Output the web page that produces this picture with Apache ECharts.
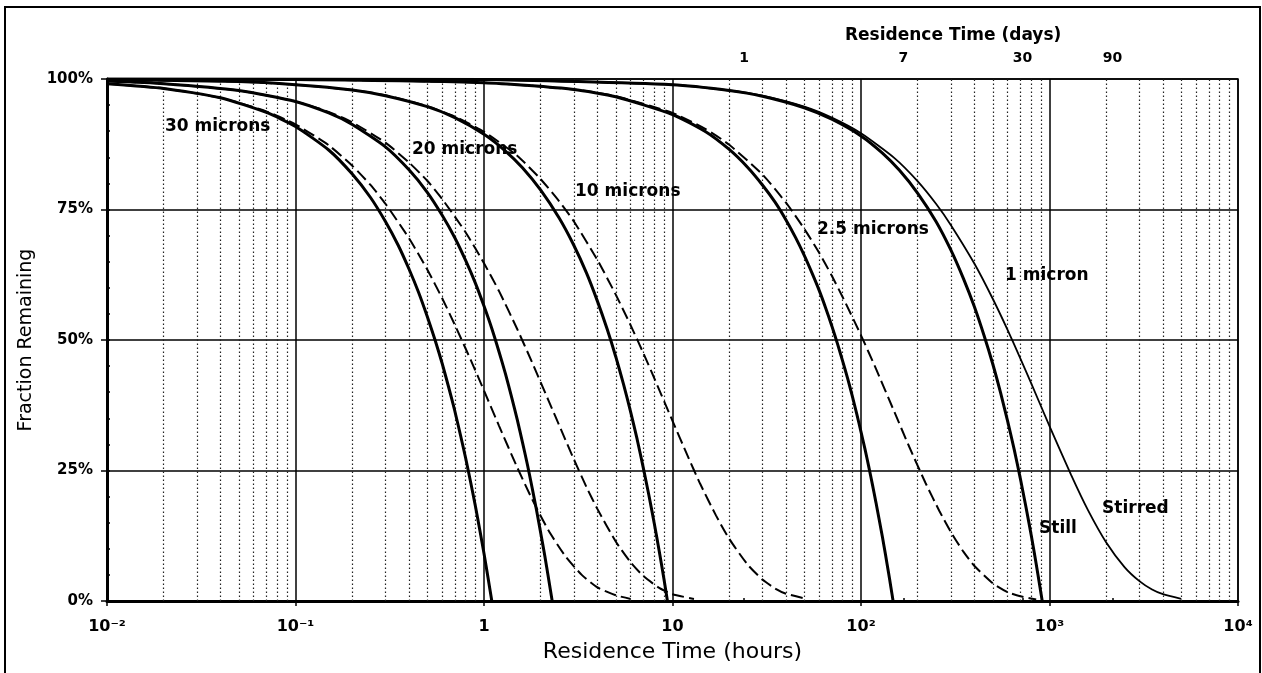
<!DOCTYPE html>
<html><head><meta charset="utf-8">
<script src="https://cdn.jsdelivr.net/npm/echarts@6/dist/echarts.min.js"></script>
<style>
html,body{margin:0;padding:0;background:#fff;overflow:hidden;}
#chart{width:1262px;height:673px;}
#frame{position:absolute;left:4px;top:6px;width:1253px;height:720px;border:2px solid #000;border-bottom:none;pointer-events:none;}
</style>
</head><body><div id="chart"></div><div id="frame"></div>
<script>
// ---- data: [hours, % remaining] ----
const still30 = [[0.01,99.1],[0.02,98.2],[0.04,96.4],[0.07,93.6],[0.1,90.9],[0.15,86.4],[0.2,81.8],[0.25,77.3],[0.3,72.7],[0.35,68.2],[0.4,63.6],[0.45,59.1],[0.5,54.5],[0.55,50.0],[0.6,45.5],[0.65,40.9],[0.7,36.4],[0.75,31.8],[0.8,27.3],[0.85,22.7],[0.9,18.2],[0.95,13.6],[1.0,9.1],[1.05,4.5],[1.1,0]];
const stirred30 = [[0.01,99.1],[0.02,98.2],[0.04,96.4],[0.07,93.8],[0.1,91.3],[0.15,87.3],[0.2,83.4],[0.25,79.7],[0.3,76.1],[0.4,69.5],[0.5,63.5],[0.6,58.0],[0.7,52.9],[0.85,46.2],[1.0,40.3],[1.2,33.6],[1.5,25.6],[1.8,19.5],[2.2,13.5],[2.7,8.6],[3.3,5.0],[4.0,2.6],[5.0,1.1],[6.0,0.4]];
const still20 = [[0.01,99.6],[0.02,99.1],[0.05,97.8],[0.1,95.7],[0.15,93.5],[0.2,91.3],[0.3,87.0],[0.4,82.6],[0.5,78.3],[0.6,73.9],[0.7,69.6],[0.8,65.2],[0.9,60.9],[1.0,56.5],[1.1,52.2],[1.2,47.8],[1.3,43.5],[1.4,39.1],[1.5,34.8],[1.6,30.4],[1.7,26.1],[1.8,21.7],[1.9,17.4],[2.0,13.0],[2.1,8.7],[2.2,4.3],[2.3,0]];
const stirred20 = [[0.01,99.6],[0.02,99.1],[0.05,97.8],[0.1,95.7],[0.15,93.7],[0.2,91.7],[0.3,87.8],[0.4,84.0],[0.5,80.5],[0.6,77.0],[0.8,70.6],[1.0,64.7],[1.2,59.4],[1.5,52.1],[1.8,45.7],[2.2,38.4],[2.6,32.3],[3.0,27.1],[3.5,21.8],[4.0,17.6],[5.0,11.4],[6.0,7.4],[7.0,4.8],[8.5,2.5],[10,1.3],[13,0.4]];
const still10 = [[0.01,99.9],[0.05,99.5],[0.1,98.9],[0.2,97.9],[0.3,96.8],[0.5,94.7],[0.7,92.6],[1.0,89.4],[1.3,86.2],[1.6,83.0],[2.0,78.7],[2.5,73.4],[3.0,68.1],[3.5,62.8],[4.0,57.4],[4.5,52.1],[5.0,46.8],[5.5,41.5],[6.0,36.2],[6.5,30.9],[7.0,25.5],[7.5,20.2],[8.0,14.9],[8.5,9.6],[9.0,4.3],[9.4,0]];
const stirred10 = [[0.01,99.9],[0.05,99.5],[0.1,98.9],[0.2,97.9],[0.3,96.9],[0.5,94.8],[0.7,92.8],[1.0,89.9],[1.5,85.3],[2.0,80.8],[2.5,76.6],[3.0,72.7],[4.0,65.3],[5.0,58.7],[6.0,52.8],[7.0,47.5],[8.0,42.7],[10,34.5],[12,27.9],[14,22.5],[17,16.4],[20,11.9],[25,7.0],[30,4.1],[35,2.4],[40,1.4],[50,0.5]];
const still25 = [[0.01,100],[0.1,99.9],[1,99.3],[3,98.0],[5,96.6],[10,93.2],[15,89.9],[20,86.5],[25,83.1],[30,79.7],[35,76.4],[40,73.0],[45,69.6],[50,66.2],[55,62.8],[60,59.5],[65,56.1],[70,52.7],[75,49.3],[80,45.9],[85,42.6],[90,39.2],[95,35.8],[100,32.4],[105,29.1],[110,25.7],[115,22.3],[120,18.9],[125,15.5],[130,12.2],[135,8.8],[140,5.4],[144,2.7],[148,0]];
const stirred25 = [[0.01,100],[0.1,99.9],[1,99.3],[3,98.0],[5,96.7],[10,93.5],[15,90.4],[20,87.4],[30,81.7],[40,76.3],[50,71.3],[60,66.7],[70,62.3],[80,58.2],[100,50.9],[120,44.5],[150,36.3],[180,29.6],[220,22.6],[260,17.3],[300,13.2],[350,9.4],[400,6.7],[500,3.4],[600,1.7],[700,0.9],[850,0.3]];
const still1 = [[0.01,100],[1,99.9],[10,98.9],[20,97.8],[30,96.7],[50,94.5],[70,92.3],[100,89.1],[130,85.8],[160,82.5],[200,78.1],[250,72.7],[300,67.2],[350,61.7],[400,56.3],[450,50.8],[500,45.4],[550,39.9],[600,34.4],[650,29.0],[700,23.5],[750,18.0],[800,12.6],[850,7.1],[890,2.7],[915,0]];
const stirred1 = [[0.01,100],[1,99.9],[10,98.9],[20,97.8],[30,96.8],[50,94.7],[70,92.6],[100,89.6],[150,84.9],[200,80.4],[250,76.1],[300,72.0],[400,64.6],[500,57.9],[600,51.9],[700,46.5],[800,41.7],[1000,33.5],[1300,24.2],[1600,17.4],[2000,11.2],[2500,6.5],[3000,3.8],[3500,2.2],[4000,1.3],[5000,0.4]];

const curveLabels = [
  {name:'30 microns', value:[0.0203,90.8]},
  {name:'20 microns', value:[0.415,86.4]},
  {name:'10 microns', value:[3.04,78.5]},
  {name:'2.5 microns', value:[58.4,71.1]},
  {name:'1 micron', value:[581,62.3]}
];
const modeLabels = [
  {name:'Still', value:[880,13.8]},
  {name:'Stirred', value:[1900,17.8]}
];

const xTickValues = [0.01,0.1,1,10,100,1000,10000];
const xTickLabels = ['10\u207B\u00B2','10\u207B\u00B9','1','10','10\u00B2','10\u00B3','10\u2074'];
const dayTicks = [1,7,30,90];

// minor (2..9) gridline positions per decade
const minorVals = [];
for (let e = -2; e < 4; e++) for (let k = 2; k <= 9; k++) minorVals.push(+(k*Math.pow(10,e)).toPrecision(3));

const FONT = 'DejaVu Sans';
const chart = echarts.init(document.getElementById('chart'), null, {renderer:'canvas'});

function curve(name, data, width, dashed) {
  return {
    name, type:'line', data, showSymbol:false, symbol:'none', smooth:0.2,
    xAxisIndex:0, yAxisIndex:0, z:5, silent:true,
    lineStyle:{color:'#000', width, type: dashed ? [12,5] : 'solid'},
    emphasis:{disabled:true}
  };
}

const option = {
  animation:false,
  backgroundColor:'#fff',
  title:{
    text:'Residence Time (days)', left:840, top:22,
    textStyle:{fontFamily:FONT, fontWeight:'bold', fontSize:17, color:'#000'}
  },
  grid:{left:107, right:24, top:79, bottom:72, show:true, borderColor:'#000', borderWidth:1.5, containLabel:false},
  xAxis:[{
    type:'log', logBase:10, min:0.01, max:10000, position:'bottom',
    name:'Residence Time (hours)', nameLocation:'middle', nameGap:40,
    nameTextStyle:{fontFamily:FONT, fontSize:22, color:'#000'},
    axisLine:{show:true, lineStyle:{color:'#000', width:3}},
    axisTick:{show:true, length:5, lineStyle:{color:'#000', width:1.5}},
    axisLabel:{margin:18, fontFamily:FONT, fontWeight:'bold', fontSize:16, color:'#000',
      formatter:function(v){ const i = xTickValues.findIndex(t => Math.abs(Math.log10(t)-Math.log10(v))<1e-6); return i>=0 ? xTickLabels[i] : ''; }},
    splitLine:{show:true, lineStyle:{color:'#000', width:1.5}}
  },{
    type:'log', logBase:10, min:0.01, max:10000, position:'top',
    axisLine:{show:false},
    axisTick:{show:true, length:3, customValues: dayTicks.map(d => d*24), lineStyle:{color:'#000', width:1.5}},
    axisLabel:{show:true, margin:14, customValues: dayTicks.map(d => d*24), fontFamily:FONT, fontWeight:'bold', fontSize:14, color:'#000',
      formatter:function(v){ return String(Math.round(v/24)); }},
    splitLine:{show:false}
  }],
  yAxis:[{
    type:'value', min:0, max:100, interval:25,
    axisLine:{show:true, lineStyle:{color:'#000', width:3}},
    axisTick:{show:true, length:6, lineStyle:{color:'#000', width:1.5}},
    axisLabel:{margin:14, fontFamily:FONT, fontWeight:'bold', fontSize:15, color:'#000', formatter:'{value}%'},
    splitLine:{show:true, lineStyle:{color:'#000', width:1.5}},
    name:'Fraction Remaining', nameLocation:'middle', nameGap:64, nameRotate:90,
    nameTextStyle:{fontFamily:FONT, fontSize:19, color:'#000'}
  },{
    type:'value', min:0, max:100, interval:5, position:'left', offset:0,
    axisLine:{show:false}, axisLabel:{show:false}, splitLine:{show:false},
    axisTick:{show:true, inside:true, length:3, lineStyle:{color:'#000', width:1.5}}
  }],
  series:[
    {
      type:'line', data:[], xAxisIndex:0, yAxisIndex:0, silent:true, z:1,
      markLine:{
        silent:true, symbol:['none','none'], animation:false,
        label:{show:false},
        lineStyle:{color:'#222', width:1.2, type:[1.5,2.5]},
        emphasis:{disabled:true},
        data: minorVals.map(v => ({xAxis:v}))
      }
    },
    curve('Still 30', still30, 3, false),
    curve('Stirred 30', stirred30, 2, true),
    curve('Still 20', still20, 3, false),
    curve('Stirred 20', stirred20, 2, true),
    curve('Still 10', still10, 3, false),
    curve('Stirred 10', stirred10, 2, true),
    curve('Still 2.5', still25, 3, false),
    curve('Stirred 2.5', stirred25, 2, true),
    curve('Still 1', still1, 3, false),
    curve('Stirred 1', stirred1, 1.8, false),
    {
      type:'scatter', data:curveLabels, symbolSize:0, itemStyle:{color:'#000', opacity:1}, z:10, silent:true,
      label:{show:true, position:'right', distance:0, formatter:'{b}', fontFamily:FONT, fontWeight:'bold', fontSize:17, color:'#000', opacity:1}
    },
    {
      type:'scatter', data:modeLabels, symbolSize:0, itemStyle:{color:'#000', opacity:1}, z:10, silent:true,
      label:{show:true, position:'right', distance:0, formatter:'{b}', fontFamily:FONT, fontWeight:'bold', fontSize:17, color:'#000', opacity:1}
    }
  ]
};
chart.setOption(option);
</script></body></html>
